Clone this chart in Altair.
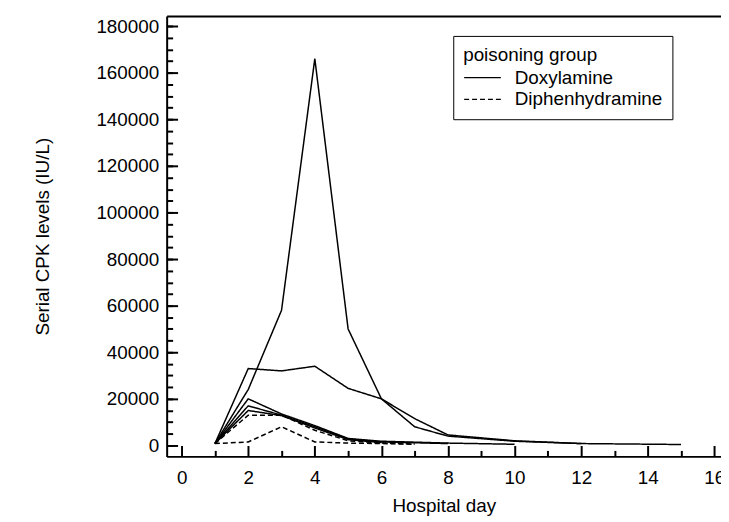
import altair as alt
import pandas as pd

# ---- data ----
group_order = ["Doxylamine", "Diphenhydramine"]

dox1_day = [1, 2, 3, 4, 5, 6, 7, 8, 10, 12, 15]
dox1_cpk = [800, 24000, 58000, 166000, 50000, 20000, 8000, 4000, 1800, 800, 400]

dox2_day = [1, 2, 3, 4, 5, 6, 7, 8, 10, 12]
dox2_cpk = [800, 33000, 32000, 34000, 24500, 20000, 11500, 4500, 2000, 800]

dox3_day = [1, 2, 3, 4, 5, 6, 8, 10]
dox3_cpk = [800, 20000, 13500, 8500, 3000, 1800, 1000, 500]

dox4_day = [1, 2, 3, 4, 5, 6, 8]
dox4_cpk = [800, 17000, 13000, 8000, 2800, 1500, 800]

dox5_day = [1, 2, 3, 4, 5, 6]
dox5_cpk = [800, 15000, 12800, 7500, 2500, 1200]

diph1_day = [1, 2, 3, 4, 5, 6, 7]
diph1_cpk = [800, 13000, 13000, 6500, 2000, 1000, 600]

diph2_day = [1, 2, 3, 4, 5, 6, 7]
diph2_cpk = [800, 1500, 8000, 1500, 1000, 800, 500]

patients = [
    ("D1", "Doxylamine", dox1_day, dox1_cpk),
    ("D2", "Doxylamine", dox2_day, dox2_cpk),
    ("D3", "Doxylamine", dox3_day, dox3_cpk),
    ("D4", "Doxylamine", dox4_day, dox4_cpk),
    ("D5", "Doxylamine", dox5_day, dox5_cpk),
    ("P1", "Diphenhydramine", diph1_day, diph1_cpk),
    ("P2", "Diphenhydramine", diph2_day, diph2_cpk),
]

x_major = [0, 2, 4, 6, 8, 10, 12, 14, 16]
x_minor = [1, 3, 5, 7, 9, 11, 13, 15]
y_major = [0, 20000, 40000, 60000, 80000, 100000, 120000, 140000, 160000, 180000]
y_minor = list(range(0, 185000, 5000))

rows = []
for pid, grp, ds, vs in patients:
    for d, v in zip(ds, vs):
        rows.append({"patient": pid, "group": grp, "day": d, "cpk": v})
df = pd.DataFrame(rows)

W, H = 559, 444
FONT = "Liberation Sans"
FS = 19

xscale = alt.Scale(domain=[-0.45, 16.2], nice=False, zero=False)
yscale = alt.Scale(domain=[-4700, 184300], nice=False, zero=False)

base = alt.Chart(df)

lines = base.mark_line(color="black", strokeWidth=1.5).encode(
    x=alt.X("day:Q", scale=xscale, axis=alt.Axis(
        orient="bottom", values=x_major, ticks=False, tickSize=0, grid=False,
        labelPadding=12, labelFlush=False, labelFont=FONT, labelFontSize=FS,
        labelColor="black", domainColor="black", domainWidth=2,
        title="Hospital day", titleFont=FONT, titleFontSize=FS,
        titleFontWeight="normal", titleColor="black", titlePadding=10)),
    y=alt.Y("cpk:Q", scale=yscale, axis=alt.Axis(
        orient="left", values=y_major, format="d", ticks=False, tickSize=0,
        grid=False, labelPadding=8, labelFont=FONT, labelFontSize=FS,
        labelColor="black", domainColor="black", domainWidth=2,
        title="Serial CPK levels (IU/L)", titleFont=FONT, titleFontSize=FS,
        titleFontWeight="normal", titleColor="black", titlePadding=44)),
    detail="patient:N",
    order="day:Q",
    strokeDash=alt.StrokeDash("group:N", scale=alt.Scale(
        domain=group_order, range=[[1, 0], [5, 3]]),
        legend=alt.Legend(
            orient="none", legendX=289, legendY=20, title="poisoning group",
            titleFont=FONT, titleFontSize=FS, titleFontWeight="normal",
            titleColor="black", titlePadding=2, labelFont=FONT,
            labelFontSize=FS, labelColor="black",
            symbolType="M-1,0H2.7", symbolSize=400, symbolStrokeWidth=1.2,
            symbolStrokeColor="black", symbolFillColor="transparent",
            labelOffset=30, rowPadding=1, padding=10, strokeColor="black",
            fillColor="white")),
)


def tick_layer(xvals, yvals, size):
    return base.mark_point(opacity=0).encode(
        x=alt.X("day:Q", scale=xscale, axis=alt.Axis(
            orient="top", offset=-H, values=xvals, ticks=True, tickSize=size,
            tickWidth=2, tickColor="black", labels=False, domain=False,
            grid=False, title=None)),
        y=alt.Y("cpk:Q", scale=yscale, axis=alt.Axis(
            orient="right", offset=-W, values=yvals, ticks=True, tickSize=size,
            tickWidth=2, tickColor="black", labels=False, domain=False,
            grid=False, title=None)),
    )


major = tick_layer(x_major, y_major, 11)
minor = tick_layer(x_minor, y_minor, 6)

frame_top = base.mark_point(opacity=0).encode(
    x=alt.X("day:Q", scale=xscale, axis=alt.Axis(
        orient="top", offset=0, ticks=False, labels=False, domain=True,
        domainColor="black", domainWidth=2, grid=False, title=None)),
    y=alt.Y("cpk:Q", scale=yscale, axis=None),
)

chart = alt.layer(lines, major, minor, frame_top).resolve_axis(
    x="independent", y="independent"
).properties(
    width=W, height=H,
    autosize=alt.AutoSizeParams(type="none"),
    padding={"left": 160, "top": 6, "right": 0, "bottom": 62},
).configure_view(stroke=None).configure(background="white")

chart.save("out.html", embed_options={"renderer": "svg", "actions": False})
